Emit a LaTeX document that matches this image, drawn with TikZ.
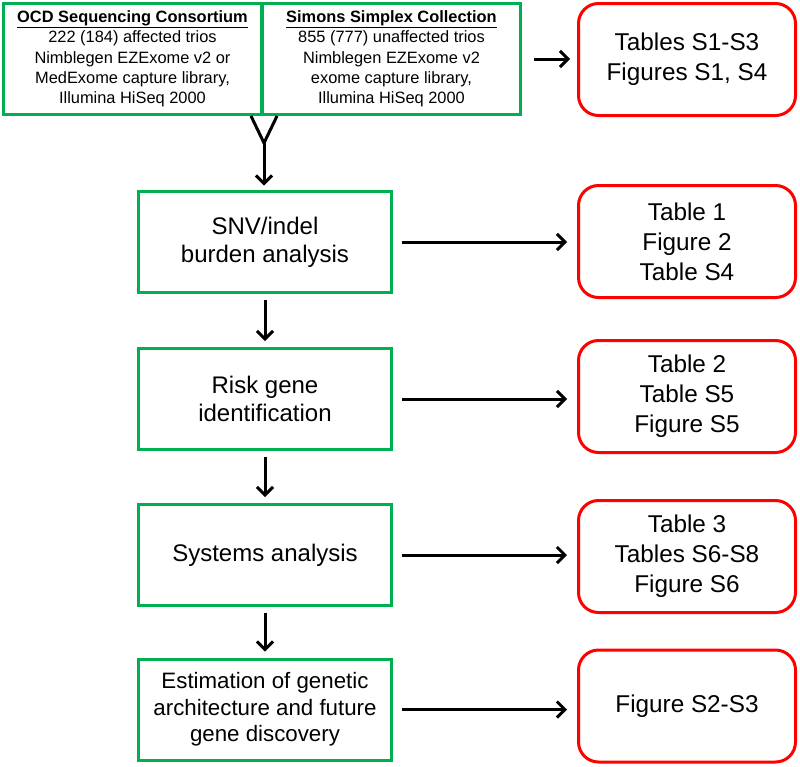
\documentclass[tikz,border=0pt]{standalone}
\usepackage{fontspec}
\setmainfont{Liberation Sans}
\usetikzlibrary{arrows.meta,calc}
\definecolor{boxgreen}{RGB}{0,176,80}
\definecolor{boxred}{RGB}{255,0,0}
\begin{document}
\begin{tikzpicture}[x=1pt,y=-1pt,
 gbox/.style={draw=boxgreen, line width=3pt, minimum width=253pt, minimum height=101pt, align=center, inner sep=0pt, font=\fontsize{24}{28}\selectfont},
 rbox/.style={draw=boxred, line width=3pt, rounded corners=20pt, minimum width=217pt, minimum height=112pt, align=center, inner sep=0pt, font=\fontsize{24.3}{30}\selectfont},
 tbox/.style={draw=boxgreen, line width=3pt, minimum width=258pt, minimum height=111pt, align=center, inner sep=0pt, font=\fontsize{16.4}{20.3}\selectfont},
 link/.style={draw=black, line width=3pt},
 arr/.style={link, -{Straight Barb[length=8pt,width=16pt,line width=3pt]}},
]
\useasboundingbox (0,0) rectangle (800,766);

% top boxes
\node[tbox] (tl) at (132.5,59) {\underline{\textbf{OCD Sequencing Consortium}}\\222 (184) affected trios\\Nimblegen EZExome v2 or\\MedExome capture library,\\Illumina HiSeq 2000};
\node[tbox] (tr) at (391.5,59) {\underline{\textbf{Simons Simplex Collection}}\\855 (777) unaffected trios\\Nimblegen EZExome v2\\exome capture library,\\Illumina HiSeq 2000};

% green process boxes
\node[gbox] (g1) at (265,242) {SNV/indel\\burden analysis};
\node[gbox] (g2) at (265,399) {Risk gene\\identification};
\node[gbox] (g3) at (265,555) {Systems analysis};
\node[gbox, font=\fontsize{22.3}{26.5}\selectfont] (g4) at (265,709.5) {Estimation of genetic\\architecture and future\\gene discovery};

% red result boxes
\node[rbox] (r1) at (687,59.5) {Tables S1-S3\\Figures S1, S4};
\node[rbox] (r2) at (687,241.5) {Table 1\\Figure 2\\Table S4};
\node[rbox] (r3) at (687,396.5) {Table 2\\Table S5\\Figure S5};
\node[rbox] (r4) at (687,556.5) {Table 3\\Tables S6-S8\\Figure S6};
\node[rbox] (r5) at (687,706) {Figure S2-S3};

% merging Y connector
\coordinate (yl) at (251,116);
\coordinate (yr) at (277,116);
\coordinate (ym) at (264,143);
\draw[link, line join=miter] (yl) -- (ym) -- (yr);
\draw[arr, shorten >=4.5pt] (ym) -- (ym |- g1.north);

% vertical arrows
\draw[arr, shorten <=5.5pt, shorten >=6pt] (g1.south) -- (g2.north);
\draw[arr, shorten <=5.5pt, shorten >=6pt] (g2.south) -- (g3.north);
\draw[arr, shorten <=5.5pt, shorten >=6pt] (g3.south) -- (g4.north);

% horizontal arrows
\draw[arr, shorten <=12pt, shorten >=7pt] (tr.east) -- (tr.east -| r1.west);
\draw[arr, shorten <=8.5pt, shorten >=10pt] (g1.east) -- (g1.east -| r2.west);
\draw[arr, shorten <=8.5pt, shorten >=10pt] (g2.east) -- (g2.east -| r3.west);
\draw[arr, shorten <=8.5pt, shorten >=10pt] (g3.east) -- (g3.east -| r4.west);
\draw[arr, shorten <=8.5pt, shorten >=10pt] (g4.east) -- (g4.east -| r5.west);
\end{tikzpicture}
\end{document}
